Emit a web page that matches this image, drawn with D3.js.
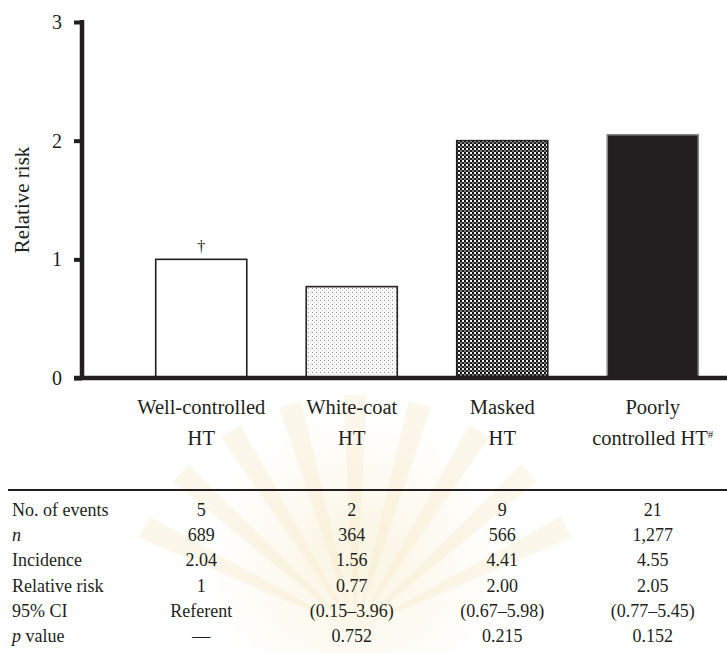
<!DOCTYPE html>
<html>
<head>
<meta charset="utf-8">
<script src="https://cdn.jsdelivr.net/npm/d3@7"></script>
<style>
  body{ margin: 0; background: #fff; }
</style>
</head>
<body>
<script>

var groups = ['Well-controlled HT', 'White-coat HT', 'Masked HT', 'Poorly controlled HT']
  , labelLines = [['Well-controlled', 'HT'], ['White-coat', 'HT'], ['Masked', 'HT'], ['Poorly', 'controlled HT*']]
  , relRisk = [1, 0.77, 2.00, 2.05]
  , yTicks = [0, 1, 2, 3]
  , rowNames = ['No. of events', 'n', 'Incidence', 'Relative risk', '95% CI', 'p value']
  , events = ['5', '2', '9', '21']
  , nCount = ['689', '364', '566', '1,277']
  , incidence = ['2.04', '1.56', '4.41', '4.55']
  , rrText = ['1', '0.77', '2.00', '2.05']
  , ciText = ['Referent', '(0.15\u20133.96)', '(0.67\u20135.98)', '(0.77\u20135.45)']
  , pText = ['\u2014', '0.752', '0.215', '0.152']

var W = 727, H = 653, ink = '#231f20', serif = '"Liberation Serif", "Times New Roman", serif'
var svg = d3.select('body').append('svg').attr('width', W).attr('height', H)
  .style('font-family', serif)

var defs = svg.append('defs')
// light dotted fill (white-coat)
var dots = defs.append('pattern').attr('id', 'dots').attr('patternUnits', 'userSpaceOnUse')
  .attr('width', 4).attr('height', 4)
dots.append('rect').attr('width', 4).attr('height', 4).attr('fill', '#f8f8f8')
dots.append('rect').attr('x', 0).attr('y', 0).attr('width', 1).attr('height', 1).attr('fill', '#8f8f8f')
dots.append('rect').attr('x', 2).attr('y', 2).attr('width', 1).attr('height', 1).attr('fill', '#d0d0d0')
// checkered fill (masked)
var check = defs.append('pattern').attr('id', 'check').attr('patternUnits', 'userSpaceOnUse')
  .attr('width', 4).attr('height', 4)
check.append('rect').attr('width', 4).attr('height', 4).attr('fill', '#7a7a7a')
check.append('rect').attr('x', 0).attr('y', 0).attr('width', 2).attr('height', 2).attr('fill', '#111')
check.append('rect').attr('x', 2).attr('y', 2).attr('width', 2).attr('height', 2).attr('fill', '#1c1c1c')
check.append('rect').attr('x', 2).attr('y', 0).attr('width', 2).attr('height', 2).attr('fill', '#f2f2f2')

// very faint watermark behind everything
var glow = defs.append('radialGradient').attr('id', 'glow')
glow.append('stop').attr('offset', '0%').attr('stop-color', '#f5e9c4').attr('stop-opacity', 0.5)
glow.append('stop').attr('offset', '100%').attr('stop-color', '#f5e9c4').attr('stop-opacity', 0)
var wm = svg.append('g').attr('transform', 'translate(355,630)').attr('opacity', 0.22)
d3.range(-64, 65, 16).forEach(function(a){
  var r = a * Math.PI / 180, w = 0.05
  wm.append('path')
    .attr('d', 'M0,0L' + 235 * Math.sin(r - w) + ',' + -235 * Math.cos(r - w) +
      'L' + 235 * Math.sin(r + w) + ',' + -235 * Math.cos(r + w) + 'Z')
    .attr('fill', '#f0dfa8')
})
svg.append('circle').attr('cx', 355).attr('cy', 560).attr('r', 150).attr('fill', 'url(#glow)')

var fills = ['#fff', 'url(#dots)', 'url(#check)', ink]

var x = d3.scaleBand().domain(groups).range([126, 728]).paddingInner(0.395).paddingOuter(0.1975)
var y = d3.scaleLinear().domain([0, 3]).range([378, 22])

function txt(sel){
  return sel.append('text').style('font-family', serif).attr('fill', ink)
}

// bars
svg.selectAll('rect.bar').data(groups).enter().append('rect')
  .attr('class', 'bar')
  .attr('x', function(d){ return x(d) })
  .attr('width', x.bandwidth())
  .attr('y', function(d, i){ return y(relRisk[i]) })
  .attr('height', function(d, i){ return y(0) - y(relRisk[i]) })
  .attr('fill', function(d, i){ return fills[i] })
  .attr('stroke', function(d, i){ return i === 3 ? '#888' : ink })
  .attr('stroke-width', 1.6)

// dagger over the referent
txt(svg)
  .attr('x', x(groups[0]) + x.bandwidth() / 2)
  .attr('y', y(relRisk[0]) - 7)
  .attr('text-anchor', 'middle').attr('font-size', 16)
  .text('\u2020')

// y axis
var yAxis = d3.axisLeft(y).tickValues(yTicks).tickFormat(d3.format('d')).tickSize(8).tickPadding(12)
var ya = svg.append('g').attr('transform', 'translate(82,0)').call(yAxis)
ya.select('.domain').attr('stroke', ink).attr('stroke-width', 4.5)
  .attr('d', 'M0,' + (y(3) - 2) + 'V' + (y(0) + 2))
ya.selectAll('.tick line').attr('stroke', ink).attr('stroke-width', 4)
ya.selectAll('.tick text').attr('font-size', 20).attr('fill', ink)
  .style('font-family', serif)

// baseline
svg.append('line').attr('x1', 74).attr('x2', W).attr('y1', y(0)).attr('y2', y(0))
  .attr('stroke', ink).attr('stroke-width', 4.5)

txt(svg)
  .attr('transform', 'translate(29,' + y(1.5) + ') rotate(-90)')
  .attr('text-anchor', 'middle').attr('font-size', 21)
  .text('Relative risk')

// category labels
labelLines.forEach(function(lines, i){
  var cx = x(groups[i]) + x.bandwidth() / 2
  var t = txt(svg).attr('text-anchor', 'middle').attr('font-size', 20.5).attr('x', cx)
  lines.forEach(function(s, j){
    var ts = t.append('tspan').attr('x', cx).attr('y', 414 + j * 31)
    if(s.slice(-1) === '*'){
      ts.text(s.slice(0, -1))
      t.append('tspan').attr('dy', -7).attr('font-size', 11).text('#')
    } else ts.text(s)
  })
})

// table
svg.append('line').attr('x1', 8).attr('x2', W).attr('y1', 490).attr('y2', 490)
  .attr('stroke', ink).attr('stroke-width', 1.8)

var rows = [events, nCount, incidence, rrText, ciText, pText]
var rowY = d3.scaleLinear().domain([0, 5]).range([516, 642])

rowNames.forEach(function(name, r){
  var t = txt(svg).attr('x', 12).attr('y', rowY(r)).attr('font-size', 18)
  if(name === 'n') t.append('tspan').attr('font-style', 'italic').text('n')
  else if(name === 'p value'){
    t.append('tspan').attr('font-style', 'italic').text('p')
    t.append('tspan').text(' value')
  } else t.text(name)
  rows[r].forEach(function(v, i){
    txt(svg).attr('x', x(groups[i]) + x.bandwidth() / 2).attr('y', rowY(r))
      .attr('text-anchor', 'middle').attr('font-size', 18).text(v)
  })
})

</script>
</body>
</html>
